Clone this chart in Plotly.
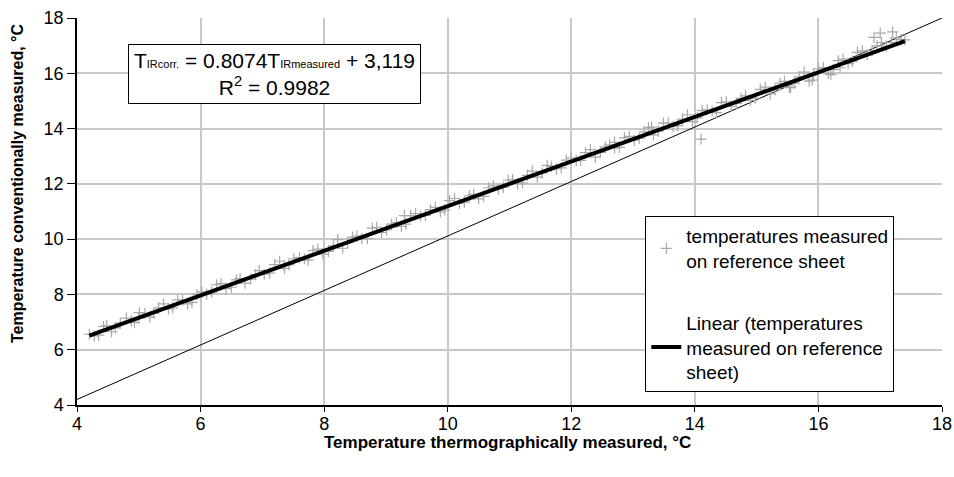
import plotly.graph_objects as go

# Measured points (thermographic T, conventional T)
meas_x = [4.20, 4.35, 4.48, 4.62, 4.80, 4.93, 5.10, 5.24, 5.40, 5.55, 5.71, 5.86, 6.02, 6.18, 6.33,
          6.50, 6.64, 6.81, 6.95, 7.12, 7.28, 7.43, 7.60, 7.74, 7.90, 8.07, 8.22, 8.38, 8.53, 8.70,
          8.85, 9.01, 9.17, 9.32, 9.48, 9.64, 9.80, 9.95, 10.11, 10.27, 10.42, 10.58, 10.74, 10.90,
          11.05, 11.21, 11.37, 11.53, 11.68, 11.84, 12.00, 12.15, 12.31, 12.47, 12.62, 12.78, 12.94,
          13.10, 13.25, 13.41, 13.57, 13.72, 13.88, 14.04, 14.20, 14.35, 14.51, 14.67, 14.82, 14.98,
          15.14, 15.30, 15.45, 15.61, 15.77, 15.92, 16.08, 16.24, 16.40, 16.55, 16.71, 16.87, 17.02,
          17.18, 17.34,
          4.28, 4.43, 4.56, 4.70, 4.88, 5.01, 5.18, 5.32, 5.48, 5.63, 5.79, 5.94, 6.10, 6.26, 6.41,
          6.58, 6.72, 6.89, 7.03, 7.20, 7.36, 7.51, 7.68, 7.82, 7.98, 8.15, 8.30, 8.46, 8.61, 8.78,
          8.93, 9.09, 9.25, 9.40, 9.56, 9.72, 9.88, 10.03, 10.19, 10.35, 10.50, 10.66, 10.82, 10.98,
          11.13, 11.29, 11.45, 11.61, 11.76, 11.92, 12.08, 12.23, 12.39, 12.55, 12.70, 12.86, 13.02,
          13.18, 13.33, 13.49, 13.65, 13.80, 13.96, 14.12, 14.28, 14.43, 14.59, 14.75, 14.90, 15.06,
          15.22, 15.38, 15.53, 15.69, 15.85, 16.00, 16.16, 16.32, 16.48, 16.63, 16.79, 16.95, 17.10,
          17.26, 17.40,
          14.10, 17.00, 17.20, 16.90, 16.20, 15.90, 15.55, 16.35, 9.30, 7.35, 5.00, 12.70, 13.30]
meas_y = [6.56, 6.53, 6.86, 6.79, 7.14, 6.98, 7.32, 7.31, 7.66, 7.51, 7.79, 7.71, 8.09, 8.08, 8.39,
          8.26, 8.57, 8.55, 8.86, 8.77, 9.20, 9.07, 9.33, 9.24, 9.64, 9.56, 9.98, 9.87, 10.11, 10.02,
          10.43, 10.33, 10.60, 10.54, 10.92, 10.86, 11.15, 11.06, 11.47, 11.34, 11.62, 11.55, 11.93,
          11.87, 12.15, 12.04, 12.46, 12.40, 12.63, 12.58, 12.94, 12.85, 13.24, 13.14, 13.41, 13.32,
          13.72, 13.64, 14.03, 13.91, 14.20, 14.11, 14.50, 14.39, 14.68, 14.58, 14.97, 14.91, 15.18,
          15.10, 15.50, 15.41, 15.71, 15.64, 16.04, 15.94, 16.21, 16.13, 16.51, 16.43, 16.81, 16.82,
          17.11, 17.11, 17.22,
          6.50, 6.84, 6.65, 6.96, 7.04, 7.34, 7.19, 7.51, 7.48, 7.80, 7.66, 7.99, 8.01, 8.35, 8.21,
          8.53, 8.41, 8.72, 8.73, 9.08, 8.94, 9.29, 9.29, 9.59, 9.46, 9.76, 9.67, 10.07, 10.02, 10.40,
          10.24, 10.54, 10.46, 10.85, 10.84, 11.07, 10.99, 11.39, 11.29, 11.57, 11.46, 11.86, 11.82,
          12.14, 12.01, 12.31, 12.24, 12.67, 12.54, 12.86, 12.84, 13.13, 12.97, 13.34, 13.29, 13.66,
          13.58, 13.88, 13.77, 14.20, 14.08, 14.34, 14.25, 14.65, 14.63, 14.94, 14.81, 15.09, 15.02,
          15.42, 15.25, 15.64, 15.48, 15.87, 15.72, 16.16, 16.00, 16.46, 16.35, 16.76, 16.68, 16.99,
          16.98, 17.28, 17.21,
          13.62, 17.45, 17.50, 17.30, 15.95, 15.75, 15.50, 16.20, 10.85, 9.05, 7.15, 13.50, 14.05]

# Fitted trendline reported on the chart: T_corr = 0.8074 * T_measured + 3.119
fit_slope = 0.8074
fit_intercept = 3.119
fit_x = [4.2, 17.4]
fit_y = [fit_slope * v + fit_intercept for v in fit_x]

# Reference 1:1 line
ref_x = [4.0, 18.0]
ref_y = [4.2, 18.0]

x_ticks = [4, 6, 8, 10, 12, 14, 16, 18]
y_ticks = [4, 6, 8, 10, 12, 14, 16, 18]

FONT = "Liberation Sans, Arial, sans-serif"

fig = go.Figure()

fig.add_trace(go.Scatter(
    x=ref_x, y=ref_y, mode="lines",
    line=dict(color="black", width=1), showlegend=False, hoverinfo="skip"))

fig.add_trace(go.Scatter(
    x=meas_x, y=meas_y, mode="markers",
    name="temperatures measured<br>on reference sheet",
    marker=dict(symbol="cross-thin", size=8, color="#A8A8A8",
                line=dict(color="#A8A8A8", width=1.2)),
    legendgroup="a"))

fig.add_trace(go.Scatter(
    x=fit_x, y=fit_y, mode="lines",
    name="Linear (temperatures<br>measured on reference<br>sheet)",
    line=dict(color="black", width=4),
    legendgroup="b"))

fig.update_layout(
    width=954, height=477,
    margin=dict(l=77, r=12, t=18, b=72),
    paper_bgcolor="white", plot_bgcolor="white",
    font=dict(family=FONT, size=17, color="black"),
    legend=dict(
        x=0.657, y=0.488, xanchor="left", yanchor="top",
        bgcolor="white", bordercolor="black", borderwidth=1,
        font=dict(family=FONT, size=19, color="black"),
        tracegroupgap=34, itemwidth=30),
    xaxis=dict(
        range=[4, 18], tickvals=x_ticks, ticktext=[str(v) for v in x_ticks],
        showgrid=True, gridcolor="#C8C8C8", gridwidth=1.5,
        showline=True, linecolor="black", linewidth=1.5,
        ticks="outside", ticklen=5, tickcolor="black", ticklabelstandoff=-3,
        tickfont=dict(family=FONT, size=18), zeroline=False, automargin=False),
    yaxis=dict(
        range=[4, 18], tickvals=y_ticks, ticktext=[str(v) for v in y_ticks],
        showgrid=True, gridcolor="#C8C8C8", gridwidth=1.5,
        showline=True, linecolor="black", linewidth=1.5,
        ticks="outside", ticklen=8, tickcolor="black",
        tickfont=dict(family=FONT, size=18), zeroline=False, automargin=False),
    annotations=[
        dict(xref="paper", yref="paper", x=0.498, y=-0.098, xanchor="center", yanchor="middle",
             text="<b>Temperature thermographically measured, °C</b>", showarrow=False,
             font=dict(family=FONT, size=17)),
        dict(xref="paper", yref="paper", x=-0.068, y=0.574, xanchor="center", yanchor="middle",
             text="<b>Temperature conventionally measured, °C</b>", showarrow=False,
             textangle=-90, font=dict(family=FONT, size=16)),
        dict(xref="paper", yref="paper", x=0.059, y=0.933, xanchor="left", yanchor="top",
             text=("T<span style='font-size:11px'>IRcorr.</span> = 0.8074T"
                   "<span style='font-size:11px'>IRmeasured</span> + 3,119<br>"
                   "R<sup>2</sup> = 0.9982"),
             showarrow=False, align="center",
             bgcolor="white", bordercolor="black", borderwidth=1, borderpad=4,
             width=283, font=dict(family=FONT, size=21)),
    ],
)

fig.write_html("out.html")
